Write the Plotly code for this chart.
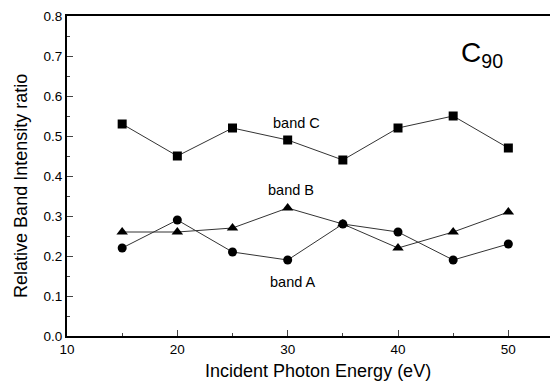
import plotly.graph_objects as go

energy = [15, 20, 25, 30, 35, 40, 45, 50]
band_c = [0.53, 0.45, 0.52, 0.49, 0.44, 0.52, 0.55, 0.47]
band_b = [0.26, 0.26, 0.27, 0.32, 0.28, 0.22, 0.26, 0.31]
band_a = [0.22, 0.29, 0.21, 0.19, 0.28, 0.26, 0.19, 0.23]

x_ticks = [10, 20, 30, 40, 50]
y_ticks = [0.0, 0.1, 0.2, 0.3, 0.4, 0.5, 0.6, 0.7, 0.8]

FONT = "Liberation Sans, Arial, sans-serif"

fig = go.Figure()
line = dict(color="#333", width=1)
fig.add_trace(go.Scatter(x=energy, y=band_c, mode="lines+markers", line=line,
                         marker=dict(symbol="square", size=9, color="black"), name="band C"))
fig.add_trace(go.Scatter(x=energy, y=band_b, mode="lines+markers", line=line,
                         marker=dict(symbol="triangle-up", size=10, color="black"), name="band B"))
fig.add_trace(go.Scatter(x=energy, y=band_a, mode="lines+markers", line=line,
                         marker=dict(symbol="circle", size=9, color="black"), name="band A"))
# invisible trace for right mirror ticks
fig.add_trace(go.Scatter(x=[None], y=[None], yaxis="y2", showlegend=False, hoverinfo="skip"))

fig.update_layout(
    width=550, height=377,
    margin=dict(l=59, r=0, t=8, b=49),
    paper_bgcolor="white", plot_bgcolor="white",
    showlegend=False,
    font=dict(family=FONT, color="black", size=13),
    xaxis=dict(range=[10, 54.5], tickvals=x_ticks, ticks="inside", ticklen=6, tickwidth=1,
               showline=True, linewidth=2, linecolor="black", mirror=True,
               showgrid=False, zeroline=False, automargin=False,
               minor=dict(tickvals=[15, 25, 35, 45], ticks="inside", ticklen=3, tickwidth=1),
               tickfont=dict(size=13.5)),
    yaxis=dict(range=[0, 0.8], tickvals=y_ticks, tickformat=".1f", ticks="inside", ticklen=6,
               tickwidth=1, showline=True, linewidth=2, linecolor="black", mirror=False,
               showgrid=False, zeroline=False, automargin=False,
               minor=dict(dtick=0.05, ticks="inside", ticklen=3, tickwidth=1),
               tickfont=dict(size=13.5)),
    yaxis2=dict(range=[0, 0.8], overlaying="y", side="right", tickvals=y_ticks,
                ticks="inside", ticklen=4, tickwidth=1, showticklabels=False, automargin=False,
                showline=False, showgrid=False, zeroline=False),
)

# axis titles
fig.add_annotation(xref="paper", yref="paper", x=0.511, y=-0.109,
                   xanchor="center", yanchor="middle",
                   text="Incident Photon Energy (eV)", showarrow=False, font=dict(size=18))
fig.add_annotation(xref="paper", yref="paper", x=-0.0937, y=0.469, textangle=-90,
                   xanchor="center", yanchor="middle",
                   text="Relative Band Intensity ratio", showarrow=False, font=dict(size=18))

fig.add_annotation(x=30.8, y=0.532, text="band C", showarrow=False, font=dict(size=14.5))
fig.add_annotation(x=30.3, y=0.365, text="band B", showarrow=False, font=dict(size=14.5))
fig.add_annotation(x=30.45, y=0.135, text="band A", showarrow=False, font=dict(size=14.5))
fig.add_annotation(x=47.6, y=0.705, text="C<sub>90</sub>", showarrow=False, font=dict(size=28))

fig.write_html("out.html")
